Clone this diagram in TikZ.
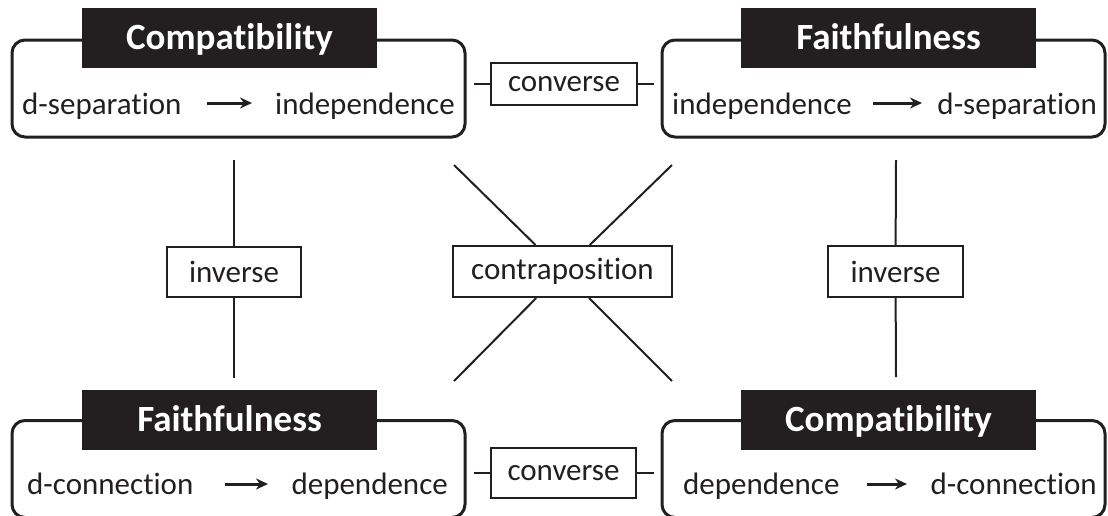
\documentclass[tikz,border=0pt]{standalone}
\usepackage{fontspec}
\setmainfont{Carlito}[Ligatures={NoCommon}]
\usetikzlibrary{arrows.meta}

\definecolor{ink}{RGB}{35,31,32}

\tikzset{
  frame/.style={draw=ink, line width=3pt, rounded corners=13pt,
    minimum height=97pt, inner sep=0pt},
  title/.style={fill=ink, text=white, inner sep=0pt,
    minimum width=295pt, minimum height=60pt,
    text height=26pt, text depth=4pt,
    font=\fontsize{37}{40}\selectfont\bfseries},
  word/.style={inner sep=0pt, text=ink, text height=21pt, text depth=0pt,
    font=\fontsize{31}{36}\selectfont},
  tag/.style={draw=ink, line width=2.2pt, fill=white, inner sep=0pt, text=ink,
    font=\fontsize{31}{36}\selectfont},
  imp/.style={draw=ink, line width=3pt, -{Stealth[length=12pt,width=11pt]}},
  link/.style={draw=ink, line width=2pt},
}

\begin{document}
\begin{tikzpicture}[x=1pt, y=-1pt]

  \clip (0,0) rectangle (1108,515);

  % ── the four statements ─────────────────────────────────────────────────
  \foreach \nm/\cx/\cy/\w/\tx/\ty/\ttl in {
      tl/238.5/88.5/453/229.5/38/Compatibility,
      tr/883.5/88.5/443/888.5/38/Faithfulness,
      bl/238.5/469/453/229.5/420/Faithfulness,
      br/883.5/469/443/888.5/420/Compatibility}{
    \node[frame, minimum width=\w pt] (\nm) at (\cx,\cy) {};
    \node[title] (\nm title) at (\tx,\ty) {\ttl};
  }

  % words inside the frames
  \node[word, anchor=west] (tlA) at (22,103.5)   {d-separation};
  \node[word, anchor=east] (tlB) at (455,103.5)  {independence};
  \node[word, anchor=west] (trA) at (672,103.5)  {independence};
  \node[word, anchor=east] (trB) at (1097,103.5) {d-separation};
  \node[word, anchor=west] (blA) at (27,483.5)   {d-connection};
  \node[word, anchor=east] (blB) at (448,483.5)  {dependence};
  \node[word, anchor=west] (brA) at (683,483.5)  {dependence};
  \node[word, anchor=east] (brB) at (1097,483.5) {d-connection};

  % implication arrows
  \coordinate (tlS) at (207,103); \coordinate (tlE) at (252,103);
  \coordinate (trS) at (873,103); \coordinate (trE) at (922,103);
  \coordinate (blS) at (225,484); \coordinate (blE) at (268,484);
  \coordinate (brS) at (867,484); \coordinate (brE) at (907,484);
  \foreach \nm in {tl,tr,bl,br}
    \draw[imp] (\nm S) -- (\nm E);

  % ── converse ────────────────────────────────────────────────────────────
  \node[tag, minimum width=146pt, minimum height=42pt] (cvT) at (564,84)    {converse};
  \node[tag, minimum width=145pt, minimum height=50pt] (cvB) at (563.5,473) {converse};

  \draw[link, shorten >=7pt] (cvT.west) -- (cvT.west -| tl.east);
  \draw[link, shorten >=7pt] (cvT.east) -- (cvT.east -| tr.west);
  \draw[link, shorten >=7pt] (cvB.west) -- (cvB.west -| bl.east);
  \draw[link, shorten >=7pt] (cvB.east) -- (cvB.east -| br.west);

  % ── inverse ─────────────────────────────────────────────────────────────
  \node[tag, minimum width=134pt, minimum height=50pt] (invL) at (234,272)   {inverse};
  \node[tag, minimum width=135pt, minimum height=51pt] (invR) at (895.5,271.5) {inverse};

  \coordinate (invLup) at (234,160); \coordinate (invLdn) at (234,378);
  \coordinate (invRup) at (896,160); \coordinate (invRdn) at (896,377);
  \draw[link] (invLup) -- (invL);
  \draw[link] (invL) -- (invLdn);
  \draw[link] (invRup) -- (invR);
  \draw[link] (invR) -- (invRdn);

  % ── contraposition ──────────────────────────────────────────────────────
  \node[tag, minimum width=219pt, minimum height=51pt] (ctr) at (562.5,271.5) {contraposition};

  \coordinate (xa) at (454,165); \coordinate (xb) at (672,165);
  \coordinate (xc) at (454,381); \coordinate (xd) at (672,381);
  \draw[link] (xa) -- (ctr);
  \draw[link] (xb) -- (ctr);
  \draw[link] (ctr) -- (xc);
  \draw[link] (ctr) -- (xd);

\end{tikzpicture}
\end{document}
